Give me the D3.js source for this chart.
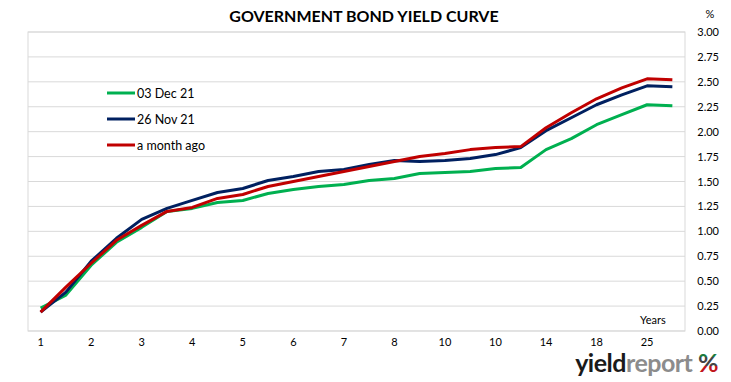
<!DOCTYPE html>
<html>
<head>
<meta charset="utf-8" />
<style>
  body { margin: 0; background: #fff; }
  svg { display: block; }
  text { font-family: Lato, "Open Sans", sans-serif; fill: #000; }
</style>
</head>
<body>
<svg id="chart" width="731" height="382"></svg>
<script src="https://cdn.jsdelivr.net/npm/d3@7"></script>
<script>
// x axis: 26 points, every other one labelled
var xLabels = ['1', '2', '3', '4', '5', '6', '7', '8', '10', '10', '14', '18', '25'];
var nPoints = 26;
var yTicks = [0, 0.25, 0.5, 0.75, 1, 1.25, 1.5, 1.75, 2, 2.25, 2.5, 2.75, 3];

var dec03 = [0.23, 0.36, 0.66, 0.89, 1.04, 1.20, 1.23, 1.29, 1.31, 1.38, 1.42, 1.45, 1.47,
             1.51, 1.53, 1.58, 1.59, 1.60, 1.63, 1.64, 1.82, 1.93, 2.07, 2.17, 2.27, 2.26];
var nov26 = [0.19, 0.39, 0.70, 0.93, 1.12, 1.23, 1.31, 1.39, 1.43, 1.51, 1.55, 1.60, 1.62,
             1.67, 1.71, 1.70, 1.71, 1.73, 1.77, 1.84, 2.01, 2.14, 2.27, 2.37, 2.46, 2.45];
var monthAgo = [0.19, 0.44, 0.68, 0.91, 1.06, 1.20, 1.24, 1.33, 1.37, 1.45, 1.50, 1.55, 1.60,
                1.65, 1.70, 1.75, 1.78, 1.82, 1.84, 1.85, 2.04, 2.19, 2.33, 2.44, 2.53, 2.52];

var series = [
  { name: '03 Dec 21', values: dec03, color: '#00b050' },
  { name: '26 Nov 21', values: nov26, color: '#002060' },
  { name: 'a month ago', values: monthAgo, color: '#c00000' }
];

var svg = d3.select('#chart');
var plotL = 28, plotR = 685, plotT = 32, plotB = 331;

var x = d3.scaleBand().domain(d3.range(nPoints)).range([plotL, plotR]);
var y = d3.scaleLinear().domain([0, 3]).range([plotB, plotT]);

// gridlines
svg.append('g').selectAll('line').data(yTicks).enter().append('line')
  .attr('x1', plotL).attr('x2', plotR)
  .attr('y1', function(d){ return y(d); }).attr('y2', function(d){ return y(d); })
  .attr('stroke', '#d9d9d9').attr('stroke-width', 1);

svg.append('rect')
  .attr('x', plotL).attr('y', plotT)
  .attr('width', plotR - plotL).attr('height', plotB - plotT)
  .attr('fill', 'none').attr('stroke', '#d9d9d9');

// y axis on the right
var yAxis = svg.append('g')
  .attr('transform', 'translate(' + (plotR + 34) + ',0)')
  .call(d3.axisLeft(y).tickValues(yTicks).tickFormat(d3.format('.2f')).tickSize(0).tickPadding(0));
yAxis.select('.domain').remove();
yAxis.selectAll('text').style('font-family', 'Lato, sans-serif').style('font-size', '11px').attr('fill', '#000');

// x axis labels
var xAxis = svg.append('g')
  .attr('transform', 'translate(0,' + (plotB + 3) + ')')
  .call(d3.axisBottom(x)
    .tickValues(d3.range(0, nPoints, 2))
    .tickFormat(function(d){ return xLabels[d / 2]; })
    .tickSize(0).tickPadding(4));
xAxis.select('.domain').remove();
xAxis.selectAll('text').style('font-family', 'Lato, sans-serif').style('font-size', '11px').attr('fill', '#000');

var line = d3.line()
  .x(function(d, i){ return x(i) + x.bandwidth() / 2; })
  .y(function(d){ return y(d); });

svg.append('g').selectAll('path').data(series).enter().append('path')
  .attr('d', function(d){ return line(d.values); })
  .attr('fill', 'none')
  .attr('stroke', function(d){ return d.color; })
  .attr('stroke-width', 3)
  .attr('stroke-linejoin', 'round');

// legend
var legend = svg.append('g').selectAll('g').data(series).enter().append('g')
  .attr('transform', function(d, i){ return 'translate(107,' + (93 + i * 26) + ')'; });
legend.append('line').attr('x1', 0).attr('x2', 28)
  .attr('stroke', function(d){ return d.color; }).attr('stroke-width', 3);
legend.append('text').attr('x', 30).attr('y', 4.5)
  .style('font-size', '12.5px')
  .text(function(d){ return d.name; });

// title and labels
svg.append('text').attr('x', 364).attr('y', 22).attr('text-anchor', 'middle')
  .style('font-size', '16px').style('font-weight', 'bold')
  .text('GOVERNMENT BOND YIELD CURVE');
svg.append('text').attr('x', 710).attr('y', 18).attr('text-anchor', 'middle')
  .style('font-size', '11px').text('%');
svg.append('text').attr('x', 640).attr('y', 324)
  .style('font-size', '11px').text('Years');

// logo
var defs = svg.append('defs');
var grad = defs.append('linearGradient').attr('id', 'pct').attr('x1', 0).attr('x2', 0).attr('y1', 0).attr('y2', 1);
grad.append('stop').attr('offset', '0%').attr('stop-color', '#1e7a3c');
grad.append('stop').attr('offset', '35%').attr('stop-color', '#1e7a3c');
grad.append('stop').attr('offset', '35%').attr('stop-color', '#444');
grad.append('stop').attr('offset', '62%').attr('stop-color', '#444');
grad.append('stop').attr('offset', '62%').attr('stop-color', '#c0161c');
grad.append('stop').attr('offset', '100%').attr('stop-color', '#c0161c');
var logo = svg.append('text').attr('x', 718).attr('y', 372).attr('text-anchor', 'end')
  .style('font-size', '25px').style('font-weight', 'bold').style('letter-spacing', '-0.5px');
logo.append('tspan').style('fill', '#1a1a1a').text('yield');
logo.append('tspan').style('fill', '#8c8c8c').text('report ');
logo.append('tspan').style('fill', 'url(#pct)').text('%');
</script>
</body>
</html>
